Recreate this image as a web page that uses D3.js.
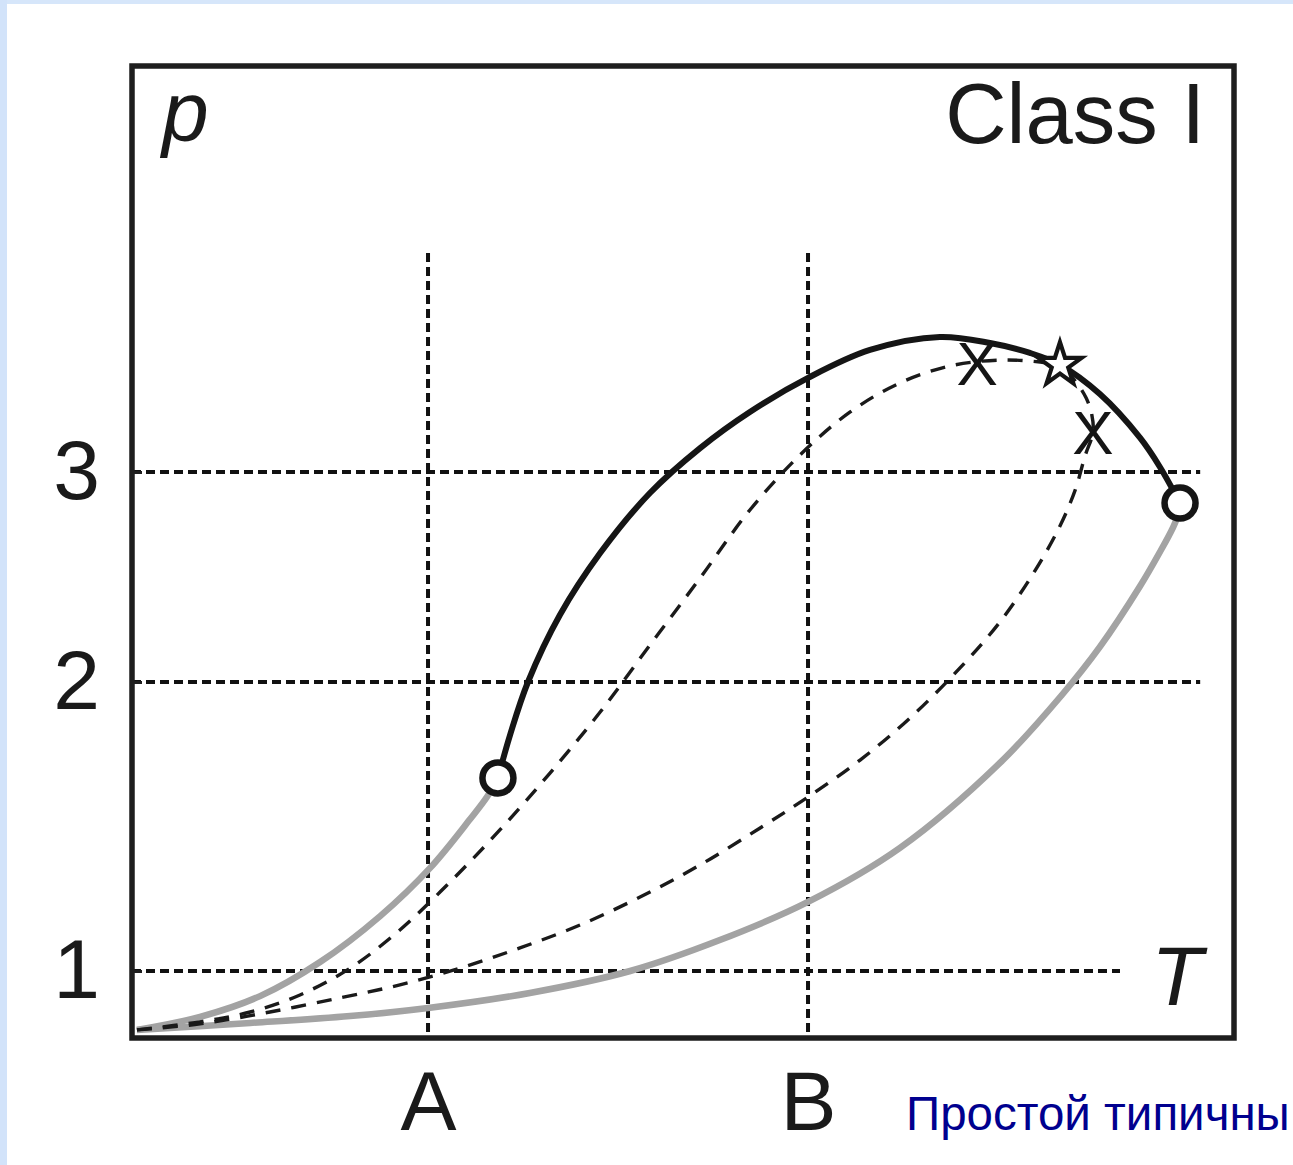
<!DOCTYPE html>
<html>
<head>
<meta charset="utf-8">
<script src="https://cdn.jsdelivr.net/npm/d3@7"></script>
<style>
  html, body { margin: 0; padding: 0; background: #ffffff; overflow: hidden; }
  svg { display: block; }
</style>
</head>
<body>
<svg id="chart" width="1293" height="1165"></svg>
<script>
// ---- data (T on the horizontal axis, p on the vertical axis) ----
const tTicks = [1, 2];
const tTickLabels = ["A", "B"];
const pTicks = [1, 2, 3];
const pTickLabels = ["1", "2", "3"];

// lower-left grey branch, start to first open circle
const greyUpperT = [0.234, 0.400, 0.558, 0.716, 0.874, 1.005, 1.111, 1.155, 1.184];
const greyUpperP = [0.796, 0.841, 0.913, 1.031, 1.190, 1.356, 1.526, 1.602, 1.668];

// black branch between the two open circles
const blackT = [1.184, 1.216, 1.263, 1.347, 1.453, 1.584, 1.716, 1.847, 2.000, 2.163, 2.347, 2.479, 2.584, 2.663, 2.768, 2.874, 2.926, 2.979];
const blackP = [1.668, 1.817, 2.000, 2.319, 2.614, 2.900, 3.114, 3.286, 3.448, 3.581, 3.643, 3.614, 3.567, 3.510, 3.371, 3.162, 3.024, 2.852];

// lower grey branch, start to second open circle
const greyLowerT = [0.234, 0.532, 0.795, 1.000, 1.268, 1.532, 1.768, 2.000, 2.242, 2.505, 2.668, 2.768, 2.874, 2.926, 2.961, 2.979];
const greyLowerP = [0.796, 0.820, 0.844, 0.872, 0.924, 1.000, 1.107, 1.239, 1.426, 1.720, 1.955, 2.167, 2.457, 2.619, 2.738, 2.819];

// dashed paths ending at the star
const dashUpperT = [0.234, 0.400, 0.532, 0.663, 0.795, 0.926, 1.058, 1.189, 1.321, 1.453, 1.584, 1.716, 1.847, 1.979, 2.111, 2.242, 2.374, 2.505, 2.611, 2.663];
const dashUpperP = [0.796, 0.824, 0.858, 0.917, 1.010, 1.142, 1.308, 1.488, 1.685, 1.896, 2.176, 2.495, 2.819, 3.081, 3.286, 3.424, 3.505, 3.533, 3.524, 3.510];

const dashLowerT = [0.234, 0.400, 0.584, 0.768, 0.926, 1.084, 1.242, 1.400, 1.558, 1.716, 1.874, 2.000, 2.137, 2.268, 2.400, 2.505, 2.597, 2.663, 2.703, 2.729, 2.750, 2.747, 2.732, 2.705, 2.663];
const dashLowerP = [0.796, 0.817, 0.858, 0.907, 0.952, 1.010, 1.080, 1.159, 1.256, 1.367, 1.495, 1.602, 1.730, 1.875, 2.067, 2.286, 2.529, 2.743, 2.914, 3.076, 3.190, 3.271, 3.352, 3.429, 3.510];

// markers
const circleT = [1.184, 2.979];
const circleP = [1.668, 2.852];
const starT = [2.663];
const starP = [3.510];
const crossT = [2.445, 2.750];
const crossP = [3.515, 3.186];

// guide lines: horizontal ones at p = 1, 2, 3 and their right ends in T
const guidePEnds = [2.821, 3.032, 3.032];
const guideTTop = 4.043;

// ---- layout ----
const frame = { left: 132, right: 1234, top: 66, bottom: 1038 };

const svg = d3.select("#chart");

// light blue page edges
svg.append("rect").attr("x", 0).attr("y", 0).attr("width", 1293).attr("height", 4).attr("fill", "#d6e6fa");
svg.append("rect").attr("x", 0).attr("y", 0).attr("width", 7).attr("height", 1165).attr("fill", "#d2e3fa");

const x = d3.scaleLinear().domain([0.221, 3.121]).range([frame.left, frame.right]);
// the p axis is not evenly spaced: piecewise linear through the labelled levels
const y = d3.scaleLinear()
  .domain([0.768, 1, 2, 3, 4.933])
  .range([frame.bottom, 971, 682, 472, frame.top]);

const zip = (ts, ps) => ts.map((t, i) => ({ t, p: ps[i] }));

// dotted guide lines
const guideDash = "9 5";
svg.append("g").selectAll("line.h")
  .data(pTicks)
  .join("line")
  .attr("x1", x(0.221)).attr("x2", (d, i) => x(guidePEnds[i]))
  .attr("y1", d => y(d)).attr("y2", d => y(d))
  .attr("stroke", "#111").attr("stroke-width", 4)
  .attr("stroke-dasharray", guideDash);

svg.append("g").selectAll("line.v")
  .data(tTicks)
  .join("line")
  .attr("x1", d => x(d)).attr("x2", d => x(d))
  .attr("y1", y(guideTTop)).attr("y2", frame.bottom)
  .attr("stroke", "#111").attr("stroke-width", 4)
  .attr("stroke-dasharray", guideDash);

const line = d3.line().x(d => x(d.t)).y(d => y(d.p)).curve(d3.curveCatmullRom.alpha(0.5));

const g = svg.append("g").attr("fill", "none").attr("stroke-linecap", "butt");

// grey branches
g.append("path").datum(zip(greyUpperT, greyUpperP)).attr("d", line)
  .attr("stroke", "#a3a3a3").attr("stroke-width", 6.5);
g.append("path").datum(zip(greyLowerT, greyLowerP)).attr("d", line)
  .attr("stroke", "#a3a3a3").attr("stroke-width", 6.5);

// dashed paths
g.append("path").datum(zip(dashUpperT, dashUpperP)).attr("d", line)
  .attr("stroke", "#1a1a1a").attr("stroke-width", 3.4).attr("stroke-dasharray", "15 11");
g.append("path").datum(zip(dashLowerT, dashLowerP)).attr("d", line)
  .attr("stroke", "#1a1a1a").attr("stroke-width", 3.4).attr("stroke-dasharray", "15 11");

// black branch
g.append("path").datum(zip(blackT, blackP)).attr("d", line)
  .attr("stroke", "#151515").attr("stroke-width", 6);

// cross markers
svg.append("g").selectAll("text")
  .data(zip(crossT, crossP))
  .join("text")
  .attr("x", d => x(d.t)).attr("y", d => y(d.p))
  .attr("text-anchor", "middle").attr("dominant-baseline", "central")
  .attr("font-family", "'Liberation Sans', Arial, sans-serif")
  .attr("font-size", 62).attr("fill", "#151515")
  .text("X");

// star marker
svg.append("g").selectAll("path")
  .data(zip(starT, starP))
  .join("path")
  .attr("transform", d => `translate(${x(d.t)},${y(d.p)})`)
  .attr("d", d3.symbol().type(d3.symbolStar).size(580))
  .attr("fill", "#ffffff").attr("stroke", "#151515").attr("stroke-width", 4.2)
  .attr("stroke-linejoin", "miter");

// open circles
svg.append("g").selectAll("circle")
  .data(zip(circleT, circleP))
  .join("circle")
  .attr("cx", d => x(d.t)).attr("cy", d => y(d.p)).attr("r", 15.5)
  .attr("fill", "#ffffff").attr("stroke", "#151515").attr("stroke-width", 6.5);

// frame
svg.append("rect")
  .attr("x", frame.left).attr("y", frame.top)
  .attr("width", frame.right - frame.left).attr("height", frame.bottom - frame.top)
  .attr("fill", "none").attr("stroke", "#1e1e1e").attr("stroke-width", 5.5);

// axes
const font = "'Liberation Sans', Arial, Helvetica, sans-serif";
const yAxis = d3.axisLeft(y).tickValues(pTicks).tickFormat((d, i) => pTickLabels[i])
  .tickSizeInner(-10).tickSizeOuter(0).tickPadding(32);
const ya = svg.append("g").attr("transform", `translate(${frame.left},0)`).call(yAxis);
ya.select(".domain").remove();
ya.selectAll(".tick line").attr("stroke", "#1e1e1e").attr("stroke-width", 3);
ya.selectAll(".tick text").attr("font-family", font).attr("font-size", 84).attr("fill", "#1a1a1a");

const xAxis = d3.axisBottom(x).tickValues(tTicks).tickFormat((d, i) => tTickLabels[i])
  .tickSize(0).tickPadding(32);
const xa = svg.append("g").attr("transform", `translate(0,${frame.bottom})`).call(xAxis);
xa.select(".domain").remove();
xa.selectAll(".tick text").attr("font-family", font).attr("font-size", 84).attr("fill", "#1a1a1a");

// axis names and title inside the frame
svg.append("text").attr("x", 162).attr("y", 141)
  .attr("font-family", font).attr("font-style", "italic").attr("font-size", 84).attr("fill", "#1a1a1a")
  .text("p");
svg.append("text").attr("x", 1177).attr("y", 1005).attr("text-anchor", "middle")
  .attr("font-family", font).attr("font-style", "italic").attr("font-size", 84).attr("fill", "#1a1a1a")
  .text("T");
svg.append("text").attr("x", 1205).attr("y", 143).attr("text-anchor", "end")
  .attr("font-family", font).attr("font-size", 85).attr("fill", "#1a1a1a")
  .text("Class I");

// caption
svg.append("text").attr("x", 906).attr("y", 1130)
  .attr("font-family", font).attr("font-size", 47.5).attr("fill", "#00008f")
  .text("Простой типичны");
</script>
</body>
</html>
